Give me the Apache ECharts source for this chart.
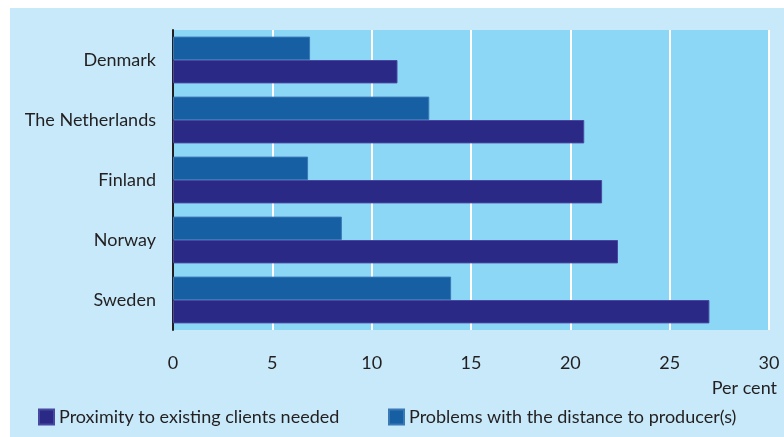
<!DOCTYPE html>
<html>
<head>
<meta charset="utf-8">
<script src="https://cdn.jsdelivr.net/npm/echarts@6/dist/echarts.min.js"></script>
<style>
  html, body { margin: 0; padding: 0; background: #ffffff; }
  #chart { width: 784px; height: 437px; }
</style>
</head>
<body>
<div id="chart"></div>
<script>
// countries, top to bottom
const countries = ["Denmark", "The Netherlands", "Finland", "Norway", "Sweden"];
// per cent of firms
const proximity = [11.3, 20.7, 21.6, 22.4, 27.0];
const distance = [6.9, 12.9, 6.8, 8.5, 14.0];
const xTicks = [0, 5, 10, 15, 20, 25, 30];

const proximityName = "Proximity to existing clients needed";
const distanceName = "Problems with the distance to producer(s)";

const font = "Lato";
const textColor = "#231f20";

const chart = echarts.init(document.getElementById("chart"));

chart.setOption({
    backgroundColor: "#ffffff",
    animation: false,
    textStyle: { fontFamily: font },
    graphic: [
        {
            type: "rect",
            z: -10,
            shape: { x: 10, y: 8, width: 774, height: 429 },
            style: { fill: "#c7e9f9" },
        },
        {
            type: "text",
            x: 777,
            y: 388,
            style: {
                text: "Per cent",
                fill: textColor,
                font: "18px " + font,
                align: "right",
                verticalAlign: "middle",
            },
        },
    ],
    legend: [
        {
            data: [proximityName],
            left: 38,
            top: 408,
            padding: 0,
            itemWidth: 15,
            itemHeight: 15,
            icon: "rect",
            textStyle: { fontSize: 18, color: textColor, fontFamily: font },
        },
        {
            data: [distanceName],
            left: 388,
            top: 408,
            padding: 0,
            itemWidth: 15,
            itemHeight: 15,
            icon: "rect",
            textStyle: { fontSize: 18, color: textColor, fontFamily: font },
        },
    ],
    grid: {
        left: 173,
        top: 30,
        right: 15,
        bottom: 107,
        show: true,
        backgroundColor: "#8dd7f6",
        borderWidth: 0,
    },
    xAxis: {
        type: "value",
        min: xTicks[0],
        max: xTicks[xTicks.length - 1],
        interval: xTicks[1] - xTicks[0],
        axisLine: { show: false },
        axisTick: { show: false },
        axisLabel: { fontSize: 18, color: textColor, margin: 24, fontFamily: font },
        splitLine: { show: true, lineStyle: { color: "#ffffff", width: 2 } },
    },
    yAxis: {
        type: "category",
        data: countries,
        inverse: true,
        axisLine: { show: true, onZero: false, lineStyle: { color: "#231f20", width: 2 } },
        axisTick: { show: false },
        axisLabel: { fontSize: 18, color: textColor, margin: 17, fontFamily: font },
        splitLine: { show: false },
    },
    series: [
        {
            name: distanceName,
            type: "bar",
            data: distance,
            barGap: "0%",
            barCategoryGap: "22%",
            itemStyle: { color: "#155fa2", borderColor: "#3b78b6", borderWidth: 1 },
        },
        {
            name: proximityName,
            type: "bar",
            data: proximity,
            itemStyle: { color: "#2a2a86", borderColor: "#4848a2", borderWidth: 1 },
        },
    ],
});
</script>
</body>
</html>
